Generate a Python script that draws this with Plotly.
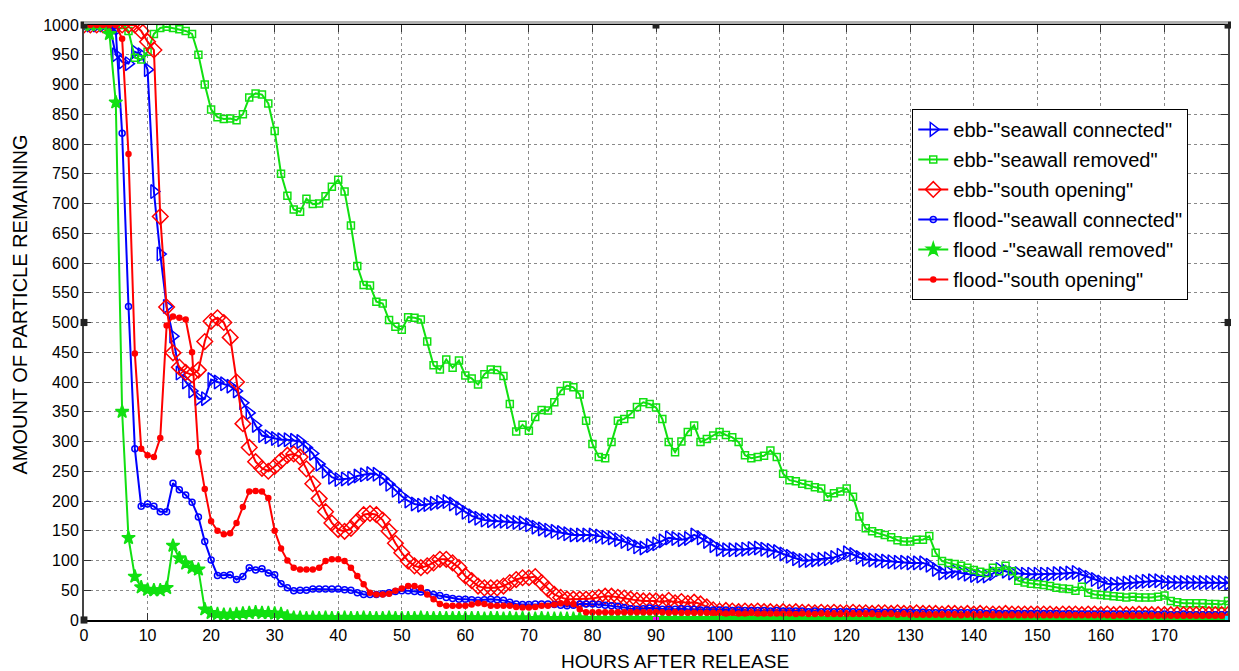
import plotly.graph_objects as go

# hours after release (hourly output)
hours = list(range(0, 181))

ebb_connected = [
    1000, 1000, 1000, 1000, 1000, 950, 938, 935, 955, 950,
    925, 720, 615, 527, 477, 415, 400, 385, 372, 372,
    404, 400, 397, 393, 385, 365, 348, 327, 310, 308,
    305, 303, 303, 302, 300, 290, 280, 262, 250, 240,
    236, 237, 238, 242, 244, 246, 245, 238, 228, 218,
    208, 200, 195, 193, 194, 196, 198, 199, 195, 188,
    181, 175, 171, 168, 167, 166, 166, 165, 164, 163,
    160, 156, 153, 151, 149, 147, 145, 143, 143, 143,
    143, 141, 139, 138, 135, 132, 128, 123, 121, 125,
    128, 133, 138, 137, 135, 137, 143, 138, 132, 125,
    119, 118, 118, 118, 119, 120, 121, 119, 117, 115,
    111, 107, 103, 100, 100, 101, 102, 103, 105, 109,
    113, 110, 105, 102, 101, 100, 99, 98, 97, 97,
    96, 96, 96, 92, 85, 79, 80, 82, 79, 77,
    75, 74, 74, 78, 85, 82, 79, 78, 77, 77,
    77, 77, 77, 78, 78, 79, 80, 76, 72, 68,
    64, 61, 60, 61, 62, 63, 64, 65, 66, 66,
    64, 63, 63, 63, 63, 63, 63, 63, 63, 63, 62,
]

ebb_removed = [
    1000, 1000, 1000, 1000, 1000, 1000, 1000, 990, 945, 942,
    955, 985, 995, 997, 995, 993, 990, 985, 950, 900,
    858, 845, 842, 843, 840, 850, 878, 885, 883, 868,
    822, 750, 713, 690, 686, 708, 699, 700, 712, 728,
    740, 720, 663, 595, 563, 562, 535, 532, 504, 493,
    488, 509, 508, 505, 468, 428, 421, 438, 424, 436,
    411, 406, 396, 413, 421, 420, 410, 363, 317, 328,
    318, 341, 353, 352, 366, 385, 394, 391, 379, 335,
    296, 274, 272, 299, 335, 338, 346, 358, 366, 363,
    357, 338, 299, 282, 300, 316, 327, 299, 304, 310,
    316, 311, 307, 299, 277, 272, 274, 276, 285, 274,
    246, 235, 233, 229, 227, 223, 221, 207, 213, 216,
    221, 207, 174, 154, 149, 146, 143, 139, 134, 132,
    132, 135, 135, 141, 113, 99, 96, 94, 91, 88,
    84, 81, 79, 88, 82, 91, 82, 66, 63, 61,
    60, 59, 57, 54, 53, 52, 49, 56, 46, 43,
    42, 41, 40, 39, 38, 39, 38, 38, 38, 39,
    41, 32, 30, 28, 28, 28, 28, 27, 27, 26, 32,
]

ebb_south = [
    1000, 1000, 1000, 1000, 1000, 1000, 1000, 1000, 1000, 990,
    972, 958, 678, 526, 449, 425, 416, 412, 420, 468,
    502, 508, 500, 475, 400, 330, 290, 266, 255, 250,
    258, 268, 277, 279, 274, 254, 229, 204, 182, 163,
    152, 149, 154, 166, 177, 179, 177, 168, 149, 129,
    113, 99, 91, 88, 91, 96, 102, 102, 96, 88,
    74, 66, 57, 54, 54, 54, 57, 63, 68, 71,
    71, 73, 63, 52, 43, 38, 35, 35, 35, 35,
    36, 38, 40, 40, 38, 37, 35, 33, 32, 32,
    32, 30, 33, 29, 31, 28, 30, 27, 22, 17,
    15, 16, 15, 14, 15, 14, 15, 14, 14, 13,
    14, 13, 14, 13, 13, 12, 13, 12, 13, 12,
    12, 13, 12, 12, 11, 12, 12, 11, 12, 11,
    11, 12, 11, 11, 11, 10, 11, 11, 10, 11,
    10, 11, 10, 10, 10, 11, 10, 10, 10, 10,
    10, 10, 10, 9, 10, 10, 10, 9, 10, 10,
    9, 10, 9, 10, 9, 9, 10, 9, 9, 9,
    9, 9, 9, 9, 9, 9, 9, 9, 9, 9, 9,
]

flood_connected = [
    1000, 1000, 1000, 1000, 1000, 990, 818, 527, 288, 191,
    195, 191, 182, 182, 230, 219, 210, 198, 173, 132,
    101, 75, 75, 76, 68, 73, 88, 84, 86, 79,
    76, 61, 54, 49, 50, 50, 52, 52, 52, 52,
    52, 51, 50, 46, 43, 43, 43, 44, 46, 48,
    49, 49, 48, 47, 46, 43, 41, 38, 36, 35,
    35, 34, 33, 34, 35, 34, 33, 30, 27, 26,
    26, 27, 27, 27, 26, 25, 24, 25, 27, 27,
    27, 26, 25, 24, 23, 21, 19, 18, 19, 20,
    19, 18, 18, 18, 19, 18, 18, 17, 17, 17,
    17, 17, 16, 17, 16, 16, 16, 16, 15, 16,
    15, 15, 15, 15, 14, 15, 14, 14, 14, 14,
    14, 14, 13, 14, 13, 13, 13, 13, 13, 13,
    13, 12, 13, 12, 12, 12, 12, 12, 12, 12,
    12, 12, 11, 12, 11, 11, 11, 11, 11, 11,
    11, 11, 11, 11, 10, 11, 10, 10, 10, 10,
    10, 10, 10, 10, 10, 10, 10, 10, 10, 9,
    10, 9, 9, 10, 9, 9, 9, 9, 9, 9, 9,
]

flood_removed = [
    1000, 1000, 1000, 1000, 985, 870, 350, 138, 73, 55,
    51, 50, 50, 54, 125, 104, 95, 88, 85, 18,
    12, 10, 9, 9, 10, 11, 12, 13, 12, 12,
    11, 10, 6, 4, 4, 3, 4, 3, 4, 3,
    3, 4, 3, 3, 4, 3, 3, 3, 4, 3,
    3, 3, 3, 4, 3, 3, 3, 3, 3, 3,
    3, 3, 3, 2, 3, 3, 2, 3, 2, 3,
    2, 2, 3, 2, 2, 2, 2, 2, 3, 2,
    2, 2, 2, 2, 2, 2, 2, 2, 2, 2,
    2, 2, 2, 2, 2, 2, 2, 2, 2, 2,
    2, 2, 2, 2, 2, 2, 2, 2, 2, 2,
    2, 2, 2, 2, 1, 2, 2, 2, 2, 1,
    2, 2, 1, 2, 2, 1, 2, 1, 2, 1,
    1, 2, 1, 1, 2, 1, 1, 1, 2, 1,
    1, 1, 1, 1, 1, 1, 1, 1, 1, 1,
    1, 1, 1, 1, 1, 1, 1, 1, 1, 1,
    1, 1, 1, 1, 1, 1, 1, 1, 1, 1,
    1, 1, 1, 1, 1, 1, 1, 1, 1, 1, 1,
]

flood_south = [
    1000, 1000, 1000, 1000, 1000, 1000, 977, 783, 448, 288,
    277, 274, 306, 495, 510, 508, 505, 450, 282, 220,
    166, 150, 144, 146, 163, 190, 216, 217, 216, 205,
    150, 120, 100, 88, 85, 85, 85, 88, 99, 102,
    102, 99, 88, 74, 60, 46, 43, 43, 44, 49,
    53, 57, 57, 54, 43, 35, 27, 24, 24, 24,
    24, 26, 28, 27, 24, 24, 24, 24, 22, 21,
    21, 22, 24, 24, 26, 28, 29, 27, 18, 13,
    13, 13, 13, 13, 13, 13, 13, 13, 13, 13,
    13, 13, 12, 13, 12, 12, 12, 12, 12, 12,
    12, 11, 12, 11, 11, 12, 11, 11, 11, 11,
    11, 11, 10, 11, 10, 10, 11, 10, 10, 10,
    10, 10, 10, 10, 10, 9, 10, 10, 9, 10,
    9, 9, 9, 9, 9, 9, 9, 9, 8, 9,
    9, 8, 9, 8, 8, 8, 8, 8, 8, 8,
    8, 8, 8, 8, 8, 8, 8, 8, 8, 8,
    8, 8, 7, 8, 7, 7, 7, 7, 7, 7,
    7, 7, 7, 7, 7, 7, 7, 7, 7, 7, 6,
]

# two stray points sitting on the x axis in the original figure
stray_x = [90, 180]
stray_y = [0, 2]

BLUE = "#0000ff"
GREEN = "#11e011"
RED = "#ff0000"

series = [
    ('ebb-"seawall connected"', ebb_connected, BLUE, "triangle-right-open", 12),
    ('ebb-"seawall removed"', ebb_removed, GREEN, "square-open", 7),
    ('ebb-"south opening"', ebb_south, RED, "diamond-open", 12),
    ('flood-"seawall connected"', flood_connected, BLUE, "circle-open", 6),
    ('flood -"seawall removed"', flood_removed, GREEN, "star", 10),
    ('flood-"south opening"', flood_south, RED, "circle", 5),
]

fig = go.Figure()

for i, (name, vals, col, sym, sz) in enumerate(series):
    fig.add_trace(go.Scatter(
        x=hours, y=vals, name=name, mode="lines+markers",
        legendgroup="g%d" % i,
        line=dict(color=col, width=2),
        marker=dict(symbol=sym, size=sz, color=col, line=dict(color=col, width=1.5)),
    ))

fig.add_trace(go.Scatter(
    x=stray_x, y=stray_y, mode="markers", showlegend=False,
    marker=dict(symbol="square", size=6, color=["#ff00ff", "#00e5ff"]),
))

# MATLAB edit-mode handles on the axes box
handles = []
for hx, hy in [(0, 1), (0.5, 1), (1, 1), (0, 0.5), (1, 0.5), (0, 0)]:
    handles.append(dict(type="rect", xref="paper", yref="paper",
                        x0=hx - 0.003, x1=hx + 0.003, y0=hy - 0.006, y1=hy + 0.006,
                        fillcolor="#222", line=dict(width=0)))
handles.append(dict(type="line", xref="paper", yref="paper", x0=0, x1=1, y0=1.004, y1=1.004,
                    line=dict(color="#b0b0b0", width=3)))

# page body has an 8px margin, so the figure is a bit smaller than the window
fig.update_layout(
    width=1231, height=663,
    margin=dict(l=76, r=11, t=9, b=51),
    plot_bgcolor="white", paper_bgcolor="white",
    font=dict(family="Liberation Sans, Arial, sans-serif", size=16, color="black"),
    showlegend=True,
    legend=dict(
        x=0.724, y=0.859, xanchor="left", yanchor="top",
        bgcolor="white", bordercolor="black", borderwidth=1,
        font=dict(size=20, color="black"),
        tracegroupgap=1, traceorder="grouped",
    ),
    xaxis=dict(
        range=[0, 180], tickvals=list(range(0, 180, 10)),
        showgrid=True, gridcolor="#8a8a8a", griddash="dot", gridwidth=1,
        ticks="inside", ticklen=7, tickcolor="#333",
        showline=True, linecolor="black", linewidth=2, mirror="allticks",
        zeroline=False, tickfont=dict(size=16),
    ),
    yaxis=dict(
        range=[0, 1000], tickvals=list(range(0, 1001, 50)),
        showgrid=True, gridcolor="#8a8a8a", griddash="dot", gridwidth=1,
        ticks="inside", ticklen=7, tickcolor="#333",
        showline=True, linecolor="#444", linewidth=2, mirror="allticks",
        zeroline=False, tickfont=dict(size=16),
    ),
    annotations=[
        dict(text="HOURS AFTER RELEASE", xref="paper", yref="paper", x=0.517, y=-0.07,
             xanchor="center", yanchor="middle", showarrow=False, font=dict(size=19)),
        dict(text="AMOUNT OF PARTICLE REMAINING", xref="paper", yref="paper", x=-0.056, y=0.53,
             xanchor="center", yanchor="middle", textangle=-90, showarrow=False, font=dict(size=20)),
    ],
    shapes=handles,
)

fig.write_html("out.html")
